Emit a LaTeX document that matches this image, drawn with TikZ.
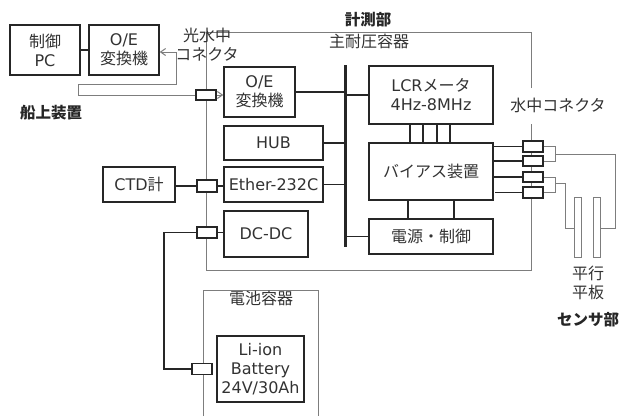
\documentclass[tikz,border=0pt]{standalone}
\usepackage{fontspec}
\setmainfont{DejaVu Sans}
\newfontfamily\jpfont{Noto Sans CJK JP}
\usepackage{tikz}
\usetikzlibrary{positioning,arrows.meta}
\definecolor{textgray}{RGB}{50,50,50}
\definecolor{framegray}{RGB}{125,125,125}
\newcommand{\jp}[1]{{\jpfont #1}}
\tikzset{
  blockbox/.style={draw=black!85,line width=1.5pt,inner sep=0pt,align=center,text=textgray,font=\fontsize{16}{19}\selectfont},
  plugbox/.style={draw=black!85,line width=1.5pt,fill=white,inner sep=0pt,minimum width=20pt},
  wirefat/.style={draw=black!85,line width=1.4pt},
  wirethin/.style={draw=framegray,line width=1pt},
  labeltext/.style={text=textgray,inner sep=0pt,align=center,font=\jpfont\fontsize{16}{19}\selectfont},
  titletext/.style={text=black!85,inner sep=0pt,font=\jpfont\bfseries\fontsize{15.5}{18}\selectfont}
}
\begin{document}
\begin{tikzpicture}[x=1pt,y=-1pt]
\useasboundingbox (0,0) rectangle (619,416);
% frames
\coordinate (mainNW) at (206,32); \coordinate (mainNE) at (531,32);
\coordinate (mainSW) at (206,270); \coordinate (mainSE) at (531,270);
\coordinate (mainGapA) at (531,88); \coordinate (mainGapB) at (531,124);
\draw[wirethin] (mainGapA)--(mainNE)--(mainNW)--(mainSW)--(mainSE)--(mainGapB);
\coordinate (battSW) at (203,416); \coordinate (battNW) at (203,290);
\coordinate (battNE) at (318,290); \coordinate (battSE) at (318,416);
\draw[wirethin] (battSW)--(battNW)--(battNE)--(battSE);
% blocks
\node[blockbox,minimum width=70pt,minimum height=50pt] (pc) at (45,50) {\jp{制御}\\PC};
\node[blockbox,minimum width=70pt,minimum height=50pt] (oeship) at (124,50) {O/E\\\jp{変換機}};
\node[blockbox,minimum width=71pt,minimum height=50pt] (oe) at (259.5,92) {O/E\\\jp{変換機}};
\node[blockbox,minimum width=99pt,minimum height=34pt] (hub) at (273.5,143) {HUB};
\node[blockbox,minimum width=99pt,minimum height=35pt] (ether) at (273.5,184.5) {Ether-232C};
\node[blockbox,minimum width=84pt,minimum height=46pt] (dcdc) at (266,234) {DC-DC};
\node[blockbox,minimum width=72pt,minimum height=35pt] (ctd) at (139,184.5) {CTD\jp{計}};
\node[blockbox,minimum width=87pt,minimum height=66pt] (batt) at (260.5,369) {Li-ion\\Battery\\24V/30Ah};
\node[blockbox,minimum width=124pt,minimum height=58pt] (lcr) at (431,95) {LCR\jp{メータ}\\4Hz-8MHz};
\node[blockbox,minimum width=124pt,minimum height=57pt] (bias) at (431,171.5) {\jp{バイアス装置}};
\node[blockbox,minimum width=124pt,minimum height=35pt] (power) at (431,236.5) {\jp{電源・制御}};
% plugs
\node[plugbox,minimum height=10pt] (plugopt) at (206,95) {};
\node[plugbox,minimum height=12pt] (plugctd) at (207,186) {};
\node[plugbox,minimum height=11pt] (plugdc) at (207,232.5) {};
\node[plugbox,minimum height=11pt] (plugbatt) at (202,369) {};
\node[plugbox,minimum height=11pt] (plugA) at (533,146.5) {};
\node[plugbox,minimum height=10pt] (plugB) at (533,161) {};
\node[plugbox,minimum height=10pt] (plugC) at (533,177) {};
\node[plugbox,minimum height=11pt] (plugD) at (533,192.5) {};
% plates
\node[draw=framegray,line width=1pt,minimum width=7pt,minimum height=60pt,inner sep=0pt] (plateL) at (577.5,227) {};
\node[draw=framegray,line width=1pt,minimum width=7pt,minimum height=60pt,inner sep=0pt] (plateR) at (597,227) {};
% bus
\coordinate (busN) at (345,65); \coordinate (busS) at (345,247);
\draw[black!85,line width=3pt] (busN)--(busS);
% wires
\draw[wirefat] (pc)--(oeship);
\draw[wirefat] (oe.east)--(oe.east -| busN);
\draw[wirefat] (lcr.west)--(lcr.west -| busN);
\draw[wirefat] (hub.east)--(hub.east -| busN);
\draw[wirefat] (ether.east)--(ether.east -| busN);
\draw[wirefat] (power.west)--(power.west -| busN);
\draw[wirefat] (ctd.east |- plugctd)--(plugctd.west);
\draw[wirefat] (plugctd.east)--(plugctd.east -| ether.west);
\draw[wirefat] (plugdc.east)--(plugdc.east -| dcdc.west);
\coordinate (dcbend) at (164,232.5); \coordinate (battbend) at (164,369);
\draw[wirefat] (plugdc.west)--(dcbend)--(battbend)--(plugbatt.west);
\foreach \xx in {410,423,437,450} \draw[wirefat] (lcr.south -| \xx,0)--(bias.north -| \xx,0);
\foreach \xx in {408,454} \draw[wirefat] (bias.south -| \xx,0)--(power.north -| \xx,0);
\foreach \plug in {plugA,plugB,plugC} \draw[wirefat] (\plug.west -| bias.east)--(\plug.west);
\coordinate (plugDstub) at (495,192.5);
\draw[wirefat] (plugDstub)--(plugD.west);
% optical line
\coordinate (optA) at (176,52); \coordinate (optB) at (176,84);
\coordinate (optC) at (78,84); \coordinate (optD) at (78,95);
\draw[wirethin,-{Straight Barb[length=5pt,width=7pt]}] (plugopt.west)--(optD)--(optC)--(optB)--(optA)--(oeship.east |- optA);
\draw[wirethin,-{Straight Barb[length=5pt,width=7pt]}] (plugopt.east)--(plugopt.east -| oe.west);
% sensor lines
\coordinate (jointAt) at (555,146.5); \coordinate (jointAb) at (555,161);
\coordinate (jointCt) at (555,177); \coordinate (jointCb) at (555,192.5);
\coordinate (leadAa) at (555,154); \coordinate (leadAb) at (615,154); \coordinate (leadAc) at (615,228);
\coordinate (leadCa) at (555,183); \coordinate (leadCb) at (565,183); \coordinate (leadCc) at (565,228);
\draw[wirethin] (plugA.east)--(jointAt)--(jointAb)--(plugB.east);
\draw[wirethin] (plugC.east)--(jointCt)--(jointCb)--(plugD.east);
\draw[wirethin] (leadAa)--(leadAb)--(leadAc)--(plateR.east |- leadAc);
\draw[wirethin] (leadCa)--(leadCb)--(leadCc)--(plateL.west |- leadCc);
% labels
\node[labeltext] (optlabel) at (207,44.5) {光水中\\コネクタ};
\node[titletext] (measlabel) at (368,20) {計測部};
\node[labeltext] (mainlabel) at (369,41) {主耐圧容器};
\node[labeltext] (uwlabel) at (558,105) {水中コネクタ};
\node[labeltext] (platelabel) at (588,283) {平行\\平板};
\node[titletext] (sensorlabel) at (588,320) {センサ部};
\node[titletext] (shiplabel) at (51,113) {船上装置};
\node[labeltext] (battlabel) at (261,298) {電池容器};
\end{tikzpicture}
\end{document}
